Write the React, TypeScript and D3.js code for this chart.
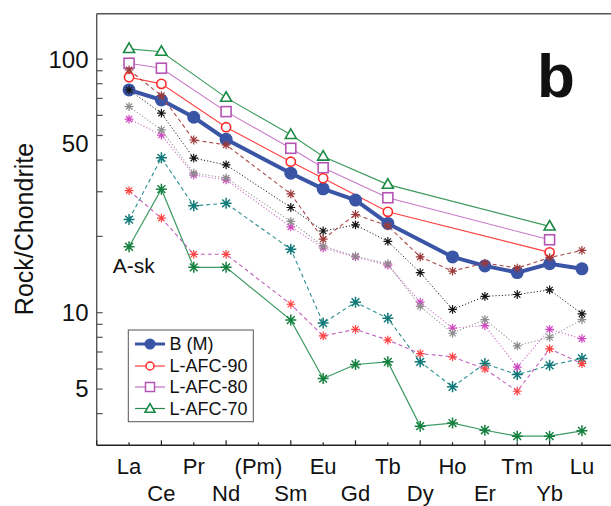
import React from "react";
import * as d3 from "d3";

const elements = ["La", "Ce", "Pr", "Nd", "(Pm)", "Sm", "Eu", "Gd", "Tb", "Dy", "Ho", "Er", "Tm", "Yb", "Lu"];
const yTickLabels = [5, 10, 50, 100];
const yMinorTicks = [4, 5, 6, 7, 8, 9, 10, 20, 30, 40, 50, 60, 70, 80, 90, 100];

type V = number | null;
// model curves
const bM: V[] = [75.6, 69, 59, 48.3, null, 35.5, 30.8, 27.8, 22.5, null, 16.6, 15.3, 14.4, 15.6, 14.9];
const lafc90: V[] = [84.9, 79.9, null, 53.9, null, 39.4, 33.9, null, 25.0, null, null, null, null, 17.3, null];
const lafc80: V[] = [96.4, 92.1, null, 62.1, null, 44.5, 37.3, null, 28.4, null, null, null, null, 19.4, null];
const lafc70: V[] = [109.8, 107, null, 70.5, null, 50.3, 41.3, null, 32.0, null, null, null, null, 21.9, null];
// rock samples (asterisks)
const s1: V[] = [90.7, 71.8, 48.0, 45.9, null, 29.4, 19.5, 24.4, 22.0, 16.6, 14.6, 15.7, 15.0, 16.5, 17.6];
const s2: V[] = [75.6, 61.2, 40.7, 38.3, null, 26.0, 21.0, 22.2, 19.1, 14.4, 10.3, 11.6, 11.8, 12.3, 9.9];
const s3: V[] = [65.0, 52.6, 35.5, 34.0, null, 22.9, 18.3, 16.7, 15.6, 10.6, 8.3, 9.4, 7.4, 8.0, 9.4];
const s4: V[] = [58.0, 50.2, 34.9, 33.4, null, 21.8, 18.0, 16.6, 15.4, 11.0, 8.7, 8.9, 6.1, 8.6, 7.9];
const s5: V[] = [30.3, 23.6, 17.0, 17.0, null, 10.8, 8.1, 8.6, 7.8, 6.9, 6.7, 6.0, 4.9, 7.2, 6.3];
const s6: V[] = [23.3, 40.8, 26.4, 27.0, null, 17.8, 9.1, 11.0, 9.5, 6.4, 5.1, 6.3, 5.7, 6.2, 6.6];
const s7: V[] = [18.2, 30.7, 15.1, 15.1, null, 9.35, 5.5, 6.25, 6.4, 3.57, 3.67, 3.44, 3.26, 3.26, 3.42];

const legendNames = ["B (M)", "L-AFC-90", "L-AFC-80", "L-AFC-70"];

const FONT = "'Liberation Sans', Arial, Helvetica, sans-serif";

const W = 611;
const H = 506;
const left = 96.7;
const top = 14.5;
const bottom = 445.3;

const x = d3.scaleLinear().domain([-1, 15]).range([left, left + 16 * 32.35]);
const y = d3.scaleLog().domain([3, 150]).range([bottom, top]);

function pts(vals: V[]): [number, number][] {
  const out: [number, number][] = [];
  vals.forEach((v, i) => {
    if (v != null) out.push([x(i), y(v)]);
  });
  return out;
}

const lineGen = d3.line<[number, number]>();

function asteriskPath(cx: number, cy: number, r: number) {
  const d = r * Math.SQRT1_2;
  return `M${cx - r},${cy}L${cx + r},${cy}M${cx},${cy - r}L${cx},${cy + r}M${cx - d},${cy - d}L${cx + d},${cy + d}M${cx - d},${cy + d}L${cx + d},${cy - d}`;
}

type Sample = { vals: V[]; line: string; mark: string; dash: string; lw: number; r: number; mw: number };
const samples: Sample[] = [
  { vals: s7, line: "#3c9a62", mark: "#15803f", dash: "", lw: 1.2, r: 5.5, mw: 1.5 },
  { vals: s6, line: "#2a9090", mark: "#137a7a", dash: "4,3", lw: 1.1, r: 5.5, mw: 1.5 },
  { vals: s5, line: "#c060c0", mark: "#ff4444", dash: "4,3", lw: 1.1, r: 4.4, mw: 1.2 },
  { vals: s4, line: "#d070c8", mark: "#d048c0", dash: "1.2,2", lw: 1.1, r: 4.4, mw: 1.2 },
  { vals: s3, line: "#9a9a9a", mark: "#8c8c8c", dash: "1.2,2", lw: 1.1, r: 4.4, mw: 1.2 },
  { vals: s2, line: "#202020", mark: "#151515", dash: "1.2,2", lw: 1.0, r: 4.4, mw: 1.2 },
  { vals: s1, line: "#a84848", mark: "#9c3a3a", dash: "4,3", lw: 1.1, r: 4.4, mw: 1.2 },
];

const BLUE = "#3a55a6";
const RED = "#ff2a2a";
const PURPLE = "#b455b4";
const GREEN = "#1a8a45";

function Triangle({ cx, cy, s, color }: { cx: number; cy: number; s: number; color: string }) {
  const h = s * 0.866;
  return (
    <path
      d={`M${cx},${cy - h * 0.62}L${cx + s / 2},${cy + h * 0.38}L${cx - s / 2},${cy + h * 0.38}Z`}
      fill="white"
      stroke={color}
      strokeWidth={1.6}
    />
  );
}

export default function App() {
  const bPts = pts(bM);
  const p90 = pts(lafc90);
  const p80 = pts(lafc80);
  const p70 = pts(lafc70);

  const legendRows = [344, 366, 387, 408.5];

  return (
    <svg width={W} height={H} style={{ position: "absolute", left: 0, top: 0, background: "white" }} fontFamily={FONT}>
      <rect x={0} y={0} width={W} height={H} fill="white" />
      {/* frame */}
      <line x1={left} x2={W + 5} y1={top - 0.8} y2={top - 0.8} stroke="#555" strokeWidth={1.4} />
      <line x1={left} x2={left} y1={top - 0.8} y2={bottom} stroke="#555" strokeWidth={1.4} />
      <line x1={left} x2={W + 5} y1={bottom} y2={bottom} stroke="#222" strokeWidth={1.4} />

      {/* y ticks */}
      {yMinorTicks.map((t) => (
        <line key={"yt" + t} x1={left} x2={left + 6} y1={y(t)} y2={y(t)} stroke="#555" strokeWidth={1.2} />
      ))}
      {yTickLabels.map((t) => (
        <text
          key={"yl" + t}
          x={88.5}
          y={y(t) + (t === 50 ? 8.5 : 0)}
          dy="0.35em"
          textAnchor="end"
          fontSize={24}
          fill="#111"
        >
          {t}
        </text>
      ))}
      <text transform={`translate(32.5, 229) rotate(-90)`} textAnchor="middle" fontSize={25} fill="#111">
        Rock/Chondrite
      </text>

      {/* x ticks */}
      {d3.range(-1, 15).map((i) => {
        const major = i % 2 !== 0;
        return (
          <line
            key={"xt" + i}
            x1={x(i)}
            x2={x(i)}
            y1={bottom}
            y2={bottom - (major ? 5 : 3)}
            stroke="#222"
            strokeWidth={1.2}
          />
        );
      })}
      {elements.map((e, i) => (
        <text
          key={"xl" + e}
          x={x(i)}
          y={i % 2 === 0 ? 474 : 500.5}
          textAnchor="middle"
          fontSize={22}
          fill="#111"
        >
          {e}
        </text>
      ))}

      {/* model curves */}
      <path d={lineGen(p70) || ""} fill="none" stroke="#3c9a5c" strokeWidth={1.1} />
      <path d={lineGen(p80) || ""} fill="none" stroke="#c878c8" strokeWidth={1.1} />
      <path d={lineGen(p90) || ""} fill="none" stroke="#ff4040" strokeWidth={1.1} />
      <path d={lineGen(bPts) || ""} fill="none" stroke={BLUE} strokeWidth={4} strokeLinejoin="round" />
      {bPts.map(([px, py], i) => (
        <circle key={"b" + i} cx={px} cy={py} r={6.5} fill={BLUE} />
      ))}
      {p70.map(([px, py], i) => (
        <Triangle key={"t" + i} cx={px} cy={py} s={11} color={GREEN} />
      ))}
      {p80.map(([px, py], i) => (
        <rect key={"s" + i} x={px - 5} y={py - 5} width={10} height={10} fill="white" stroke={PURPLE} strokeWidth={1.6} />
      ))}
      {p90.map(([px, py], i) => (
        <circle key={"c" + i} cx={px} cy={py} r={4.6} fill="white" stroke={RED} strokeWidth={1.6} />
      ))}

      {/* samples */}
      {samples.map((s, k) => {
        const p = pts(s.vals);
        return (
          <g key={"smp" + k}>
            <path d={lineGen(p) || ""} fill="none" stroke={s.line} strokeWidth={s.lw} strokeDasharray={s.dash} />
            {p.map(([px, py], i) => (
              <path key={i} d={asteriskPath(px, py, s.r)} stroke={s.mark} strokeWidth={s.mw} fill="none" />
            ))}
          </g>
        );
      })}

      {/* annotations */}
      <text x={112.7} y={272.7} fontSize={21} fill="#111">
        A-sk
      </text>
      <text x={537} y={97} fontSize={62} fontWeight="bold" fill="#111">
        b
      </text>

      {/* legend */}
      <rect x={128.3} y={330} width={125} height={91.7} fill="white" stroke="#555" strokeWidth={1} />
      {legendNames.map((name, i) => {
        const ly = legendRows[i];
        const colors = [BLUE, "#ff4040", "#c070c0", "#2a8a50"];
        return (
          <g key={"lg" + i}>
            <line x1={135} x2={165} y1={ly} y2={ly} stroke={colors[i]} strokeWidth={i === 0 ? 3 : 1.2} />
            {i === 0 && <circle cx={150} cy={ly} r={5.5} fill={BLUE} />}
            {i === 1 && <circle cx={150} cy={ly} r={4} fill="white" stroke={RED} strokeWidth={1.5} />}
            {i === 2 && <rect x={145.5} y={ly - 4.5} width={9} height={9} fill="white" stroke={PURPLE} strokeWidth={1.5} />}
            {i === 3 && <Triangle cx={150} cy={ly + 0.5} s={10} color={GREEN} />}
            <text x={169.5} y={ly} dy="0.36em" fontSize={18} fill="#111">
              {name}
            </text>
          </g>
        );
      })}
    </svg>
  );
}
